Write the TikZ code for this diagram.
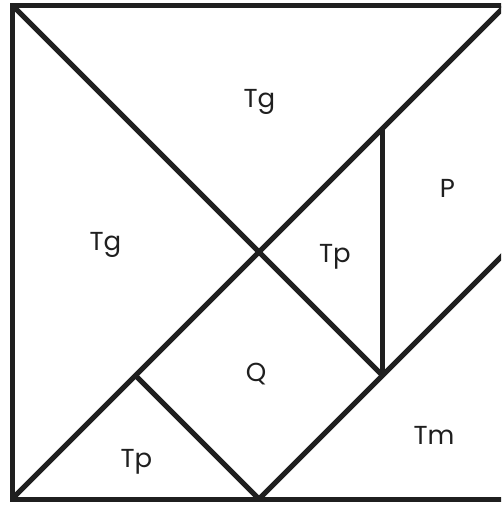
\documentclass[tikz,border=0pt]{standalone}
\usepackage{fontspec}
\setmainfont{Poppins}
\begin{document}
\begin{tikzpicture}[x=1pt,y=-1pt,
  edge/.style={line width=5pt,draw=black!88,line join=miter},
  lbl/.style={font=\fontsize{26}{26}\selectfont,text=black!88,inner sep=0pt,anchor=base}]
\useasboundingbox (0,0) rectangle (501,506);
\clip (0,0) rectangle (501,506);
\fill[white] (0,0) rectangle (501,506);
% tangram grid: X = 12+123.5u, Y = 499-123.5v
\coordinate (A) at (12,499);     % (0,0)
\coordinate (B) at (506,499);    % (4,0)
\coordinate (C) at (506,5);      % (4,4)
\coordinate (D) at (12,5);       % (0,4)
\coordinate (O) at (259,252);    % (2,2)
\coordinate (E) at (382.5,128.5);% (3,3)
\coordinate (F) at (382.5,375.5);% (3,1)
\coordinate (G) at (506,252);    % (4,2)
\coordinate (H) at (259,499);    % (2,0)
\coordinate (K) at (135.5,375.5);% (1,1)
\draw[edge] (A) -- (B) -- (C) -- (D) -- cycle;
\draw[edge] (A) -- (C);
\draw[edge] (D) -- (O) -- (F);
\draw[edge] (E) -- (F);
\draw[edge] (H) -- (F) -- (G);
\draw[edge] (K) -- (H);
\node[lbl] (tg1) at (259.5,107) {Tg};
\node[lbl] (tg2) at (105.5,250) {Tg};
\node[lbl] (tp1) at (335,262) {Tp};
\node[lbl] (p) at (447.5,197) {P};
\node[lbl] (q) at (256,381) {Q};
\node[lbl] (tp2) at (136.5,467) {Tp};
\node[lbl] (tm) at (434,444) {Tm};
\end{tikzpicture}
\end{document}
